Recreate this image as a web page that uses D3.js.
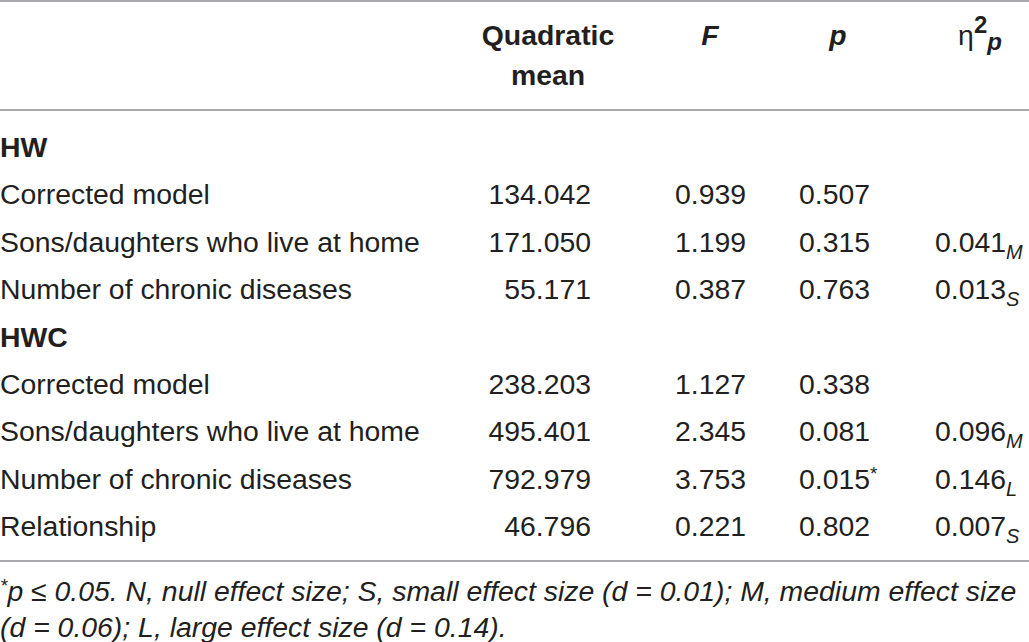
<!DOCTYPE html>
<html>
<head>
<meta charset="utf-8">
<script src="https://cdn.jsdelivr.net/npm/d3@7"></script>
<style>
  html, body { margin: 0; padding: 0; background: #fff; }
  svg text { font-family: "Liberation Sans", Arial, Helvetica, sans-serif; fill: #231f20; }
</style>
</head>
<body>
<svg id="tbl" width="1029" height="642"></svg>
<script>
// table content
var groups = ['HW', 'HWC'];
var rowGroup = ['HW', 'HW', 'HW', 'HWC', 'HWC', 'HWC', 'HWC'];
var rowLabels = [
  'Corrected model',
  'Sons/daughters who live at home',
  'Number of chronic diseases',
  'Corrected model',
  'Sons/daughters who live at home',
  'Number of chronic diseases',
  'Relationship'
];
var quadMean = ['134.042', '171.050', '55.171', '238.203', '495.401', '792.979', '46.796'];
var fValues = ['0.939', '1.199', '0.387', '1.127', '2.345', '3.753', '0.221'];
var pValues = ['0.507', '0.315', '0.763', '0.338', '0.081', '0.015', '0.802'];
var pStars = ['', '', '', '', '', '*', ''];
var etaValues = ['', '0.041', '0.013', '', '0.096', '0.146', '0.007'];
var etaSizes = ['', 'M', 'S', '', 'M', 'L', 'S'];
var footnote = [
  'p ≤ 0.05. N, null effect size; S, small effect size (d = 0.01); M, medium effect size',
  '(d = 0.06); L, large effect size (d = 0.14).'
];

var svg = d3.select('#tbl');
var fs = 28.4;
var footFs = 28.4;
var lineColor = '#a7a9ac';

// build the flat list of lines: group headings then their rows
var lines = [];
groups.forEach(function (g) {
  lines.push({ head: g });
  rowGroup.forEach(function (rg, i) {
    if (rg === g) lines.push({ i: i });
  });
});

var y = d3.scaleLinear().domain([0, lines.length - 1]).range([157, 536]);

// rules
[1, 110, 561].forEach(function (ly) {
  svg.append('line')
    .attr('x1', 0).attr('x2', 1029)
    .attr('y1', ly).attr('y2', ly)
    .attr('stroke', lineColor)
    .attr('stroke-width', 2);
});

// header
var head = svg.append('g').attr('font-weight', 'bold').attr('font-size', fs);
head.append('text').attr('x', 548).attr('y', 45).attr('text-anchor', 'middle').text('Quadratic');
head.append('text').attr('x', 548).attr('y', 85).attr('text-anchor', 'middle').text('mean');
head.append('text').attr('x', 710).attr('y', 45).attr('text-anchor', 'middle')
  .attr('font-style', 'italic').text('F');
head.append('text').attr('x', 838).attr('y', 45).attr('text-anchor', 'middle')
  .attr('font-style', 'italic').text('p');
var eta = head.append('text').attr('x', 980).attr('y', 45).attr('text-anchor', 'middle');
eta.append('tspan').attr('font-weight', 'normal').text('η');
eta.append('tspan').attr('dy', -12).attr('font-size', 24).text('2');
eta.append('tspan').attr('dy', 17).attr('font-size', 24).attr('font-style', 'italic').text('p');

// body
var body = svg.append('g').attr('font-size', fs);

lines.forEach(function (d, k) {
  var yy = y(k);
  if (d.head) {
    body.append('text').attr('x', 0).attr('y', yy)
      .attr('font-weight', 'bold').text(d.head);
    return;
  }
  var i = d.i;
  body.append('text').attr('x', 0).attr('y', yy).text(rowLabels[i]);
  body.append('text').attr('x', 591).attr('y', yy).attr('text-anchor', 'end').text(quadMean[i]);
  body.append('text').attr('x', 746).attr('y', yy).attr('text-anchor', 'end').text(fValues[i]);
  var pt = body.append('text').attr('x', 799).attr('y', yy);
  pt.append('tspan').text(pValues[i]);
  if (pStars[i]) pt.append('tspan').attr('dy', -9).attr('font-size', 19).text(pStars[i]);
  if (etaValues[i]) {
    var et = body.append('text').attr('x', 935).attr('y', yy);
    et.append('tspan').text(etaValues[i]);
    et.append('tspan').attr('dy', 7).attr('font-size', 20).attr('font-style', 'italic').text(etaSizes[i]);
  }
});

// footnote
var foot = svg.append('g').attr('font-size', footFs).attr('font-style', 'italic');
var f1 = foot.append('text').attr('x', 0).attr('y', 601);
f1.append('tspan').attr('font-size', 19).attr('dy', -9).text('*');
f1.append('tspan').attr('font-size', footFs).attr('dy', 9).text(footnote[0]);
foot.append('text').attr('x', 0).attr('y', 637).text(footnote[1]);
</script>
</body>
</html>
